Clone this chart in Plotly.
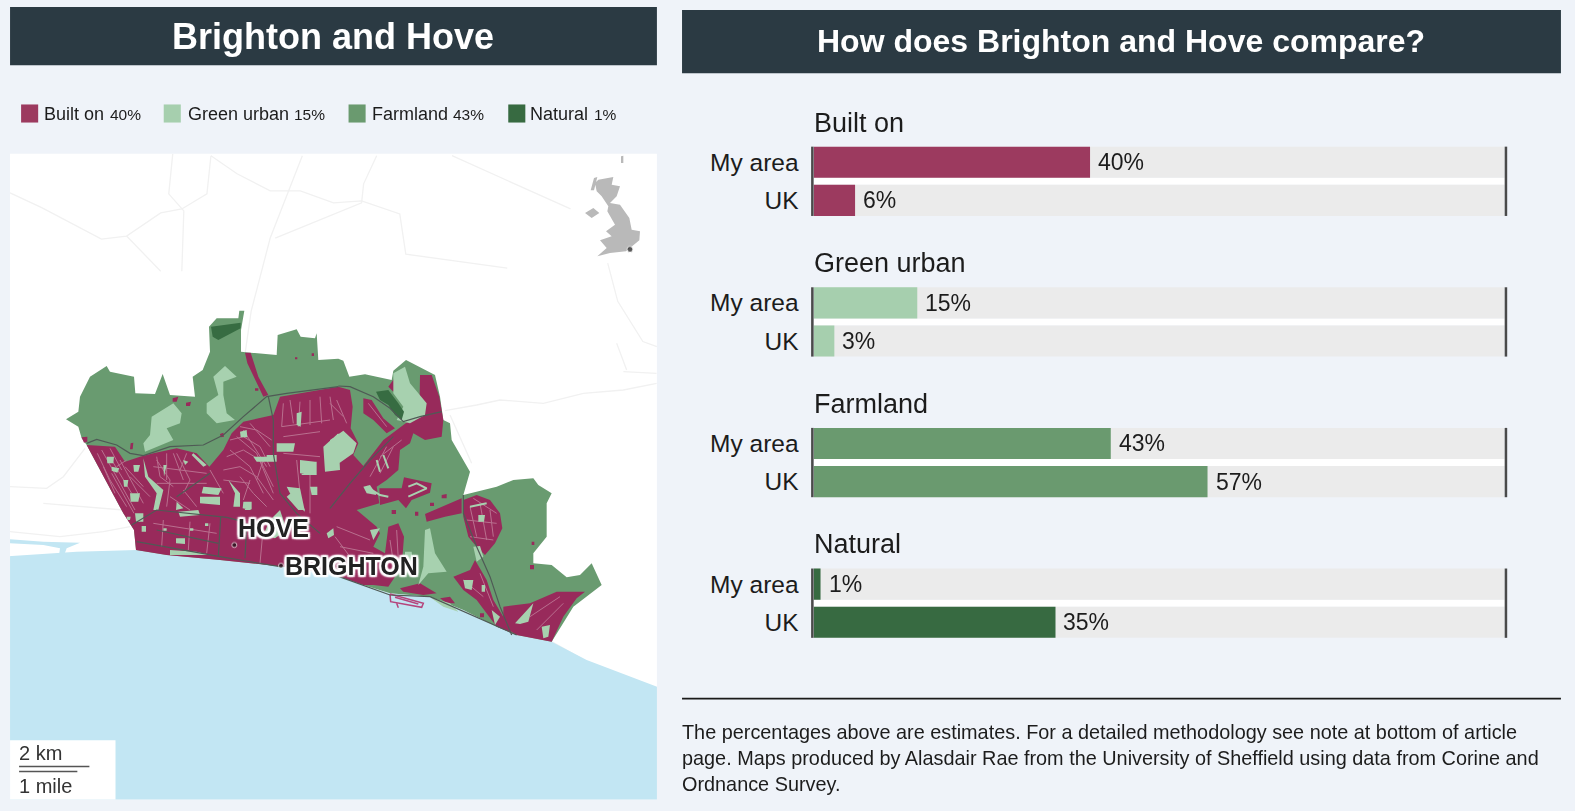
import plotly.graph_objects as go

W, H = 1575, 811
CATEGORIES = ["Built on", "Green urban", "Farmland", "Natural"]
ROW_LABELS = ["My area", "UK"]
MY_AREA = [40, 15, 43, 1]
UK_VALUES = [6, 3, 57, 35]
BAR_FULL = 100
COLORS = ["#9c3a5f", "#a6cfae", "#6a9a6f", "#376a41"]
MAP_COLORS = ["#982a5b", "#a7d1af", "#699b70", "#376c42"]

# Map geography, in tracing sheets: west (W), east (E), centre (C)
FARM_W_NORTH = [[168,418],[205,395],[210,350],[240,290],[290,258],[300,275],[372,290],[376,340],[435,342],[458,282],[480,345],[555,350],[548,290],[578,270],[600,215],[597,140],[620,115],[685,115],[688,92],[703,92],[693,150],[693,215],[720,218],[800,225],[803,165],[860,148],[872,170],[915,175],[920,160],[925,240],[985,236]]
FARM_E = [[40,62],[58,110],[105,103],[185,120],[190,92],[228,60],[315,105],[330,170],[340,240],[360,250],[365,300],[420,395],[400,465],[500,440],[550,420],[610,415],[625,435],[665,460],[650,490],[650,590],[610,640],[610,670],[665,675],[710,712],[750,705],[785,670],[815,735],[730,800],[665,905],[560,885],[500,860],[400,810],[300,770],[180,760],[100,735],[0,700]]
COAST_W = [[820,860],[630,840],[470,825],[378,810],[372,750],[340,700],[280,590],[230,495],[215,475],[205,440]]

BUILT_W_NORTH = [[230,495],[315,500],[345,545],[390,530],[430,520],[500,505],[560,520],[598,560],[640,510],[665,460],[700,425],[790,405],[810,350],[985,320]]
BUILT_E_MAIN = [[25,140],[60,150],[68,200],[62,265],[85,310],[70,345],[100,378],[160,300],[240,240],[268,225],[270,105],[305,105],[328,170],[340,240],[335,290],[285,300],[250,280],[240,310],[210,330],[205,390],[170,420],[140,440],[148,490],[80,510],[140,560],[150,580],[130,620],[165,640],[175,560],[205,550],[222,590],[215,680],[175,740],[130,735],[100,735],[0,700]]
BUILT_E_OTHER = [
    [[400,480],[440,465],[480,480],[510,520],[517,565],[495,610],[465,645],[440,620],[415,590],[400,530]],
    [[285,522],[395,475],[395,520],[345,530],[290,545]],
    [[100,175],[125,180],[160,235],[195,265],[170,280],[130,240],[100,220]],
    [[148,445],[215,445],[222,412],[305,430],[300,458],[245,480],[228,505],[205,480],[150,495]],
    [[370,710],[420,690],[435,660],[470,720],[490,780],[520,830],[545,880],[560,885],[500,860],[440,780],[400,750]],
    [[520,800],[600,790],[680,755],[765,755],[740,775],[700,830],[665,905],[560,885],[520,860]],
    [[210,745],[270,730],[320,760],[280,765],[220,755]],
    [[330,775],[360,770],[375,790],[350,790]],
    [[175,140],[200,105],[205,140],[190,155]],
    [[335,465],[350,462],[350,475],[335,475]],
    [[185,510],[198,510],[198,522],[185,522]],
    [[255,515],[265,515],[265,527],[255,527]],
    [[300,488],[312,488],[312,498],[300,498]],
    [[600,675],[612,675],[612,688],[600,688]],
    [[605,605],[613,605],[613,615],[605,615]],
    [[450,820],[462,820],[462,832],[450,832]],
    [[10,320],[22,320],[22,328],[10,328]],
]
BUILT_W_OTHER = [
    [[215,472],[232,470],[232,485],[222,488]],
    [[362,490],[370,488],[368,508],[360,508]],
    [[488,355],[505,350],[500,365],[488,365]],
    [[528,368],[543,365],[540,378],[528,378]],
    [[705,218],[722,218],[745,290],[775,345],[760,350],[730,290],[712,250]],
    [[735,325],[745,325],[745,332],[735,332]],
    [[620,385],[628,385],[628,392],[620,392]],
    [[448,425],[456,425],[456,432],[448,432]],
    [[855,232],[862,232],[862,238],[855,238]],
    [[905,220],[912,220],[912,228],[905,228]],
    [[630,462],[640,458],[642,470],[632,472]],
]
GREEN_W = [
    [[610,290],[645,258],[680,290],[640,305],[640,345],[650,400],[675,420],[620,430],[590,400],[590,370],[625,345]],
    [[425,410],[490,370],[515,400],[510,430],[470,445],[490,480],[405,515],[400,490],[420,465]],
    [[400,535],[415,590],[460,630],[445,690],[430,690],[440,640],[405,590]],
    [[580,620],[635,625],[625,645],[575,640]],
    [[570,650],[630,650],[630,675],[570,670]],
    [[655,600],[690,640],[690,680],[670,680],[675,640]],
    [[800,490],[855,490],[850,515],[800,515]],
    [[830,650],[860,625],[885,690],[865,690]],
    [[940,500],[985,460],[990,570],[945,575]],
    [[700,665],[725,665],[722,690],[698,685]],
    [[505,695],[565,690],[570,705],[510,710]],
    [[500,665],[520,685],[498,690]],
    [[375,700],[400,700],[400,725],[378,725]],
    [[360,640],[390,640],[385,665],[362,665]],
    [[290,530],[312,530],[310,550],[292,550]],
    [[305,560],[328,565],[322,578],[305,572]],
    [[370,555],[390,555],[385,575],[372,575]],
    [[498,775],[525,775],[525,792],[498,790]],
    [[395,738],[408,738],[408,755],[395,755]],
    [[340,600],[355,600],[352,620],[342,620]],
    [[480,810],[560,815],[600,825],[480,825]],
    [[770,525],[800,525],[800,545],[770,545]],
    [[875,545],[920,545],[920,585],[875,585]],
    [[550,520],[590,555],[580,560],[545,525]],
    [[690,455],[710,450],[712,472],[692,472]],
    [[860,400],[875,395],[872,440],[860,435]],
    [[910,620],[922,620],[922,645],[912,645]],
    [[460,555],[470,555],[462,590]],
    [[520,540],[535,545],[525,555]],
    [[740,530],[780,530],[775,545],[745,545]],
    [[350,710],[362,710],[360,720],[352,720]],
    [[540,745],[550,745],[550,752],[540,752]],
    [[585,730],[595,730],[595,738],[585,738]],
    [[460,745],[470,745],[470,752],[460,752]],
]
GREEN_E = [
    [[0,300],[40,272],[80,310],[70,340],[20,375],[0,365]],
    [[190,100],[225,80],[240,130],[290,190],[285,225],[240,250],[200,240],[220,200],[190,160]],
    [[285,570],[300,565],[315,640],[350,695],[295,700],[265,735],[280,680]],
    [[555,850],[610,790],[595,845],[570,852]],
    [[430,620],[450,618],[460,650],[440,665]],
    [[300,772],[360,790],[385,815],[340,800]],
    [[100,440],[150,462],[120,458]],
    [[400,720],[430,720],[425,750],[405,745]],
    [[635,860],[660,855],[655,890],[640,895]],
    [[445,525],[465,525],[462,545],[445,545]],
    [[485,810],[510,830],[495,855]],
    [[225,635],[245,635],[250,680],[225,680]],
    [[455,735],[465,735],[465,755],[455,755]],
    [[120,570],[150,565],[130,600]],
]
GREEN_C = [
    [[270,200],[285,200],[290,225],[275,225]],
    [[200,200],[240,205],[255,275],[225,250]],
    [[150,300],[180,270],[200,330],[165,355],[130,345]],
    [[320,340],[340,325],[342,345],[325,355]],
    [[430,200],[450,195],[470,225],[440,220]],
    [[240,120],[285,125],[270,165],[240,160]],
    [[100,110],[150,110],[140,125],[110,125]],
    [[70,248],[95,245],[95,268],[75,270]],
]
NATURAL_W = [[[603,140],[692,128],[692,145],[625,180],[608,170]]]
NATURAL_E = [[[138,155],[175,150],[205,190],[222,215],[215,240],[195,225],[175,195],[150,180]]]
MARINA_E = [[[180,762],[280,790],[275,802],[182,785],[180,762]],[[195,772],[265,792]],[[200,790],[205,803]]]

STREETS_W = [
    [[262,520],[300,600],[350,680]],[[275,510],[325,600],[375,690]],[[300,505],[335,570]],[[280,560],[315,640]],[[320,560],[350,540]],
    [[305,540],[365,640]],[[330,540],[400,670]],[[305,580],[372,700]],[[360,590],[420,650]],[[345,560],[400,620]],
    [[440,530],[450,590],[490,620]],[[470,520],[470,600]],[[490,520],[520,600]],[[530,520],[510,570]],[[430,560],[590,580]],[[440,610],[590,610]],
    [[520,630],[560,680]],[[480,650],[540,690]],[[600,570],[640,640]],[[440,540],[480,600],[470,680]],[[500,520],[540,600],[520,640]],
    [[660,480],[700,470],[750,500],[780,560]],[[650,530],[700,510],[750,540],[790,620]],[[640,570],[690,560],[740,590],[790,660]],
    [[690,440],[740,450],[785,480]],[[690,590],[730,640],[770,680]],[[720,600],[700,660]],[[760,540],[740,600]],
    [[680,470],[740,520],[790,640]],[[700,450],[770,560]],[[660,510],[720,560],[760,640]],[[720,430],[780,500]],[[640,600],[720,610]],
    [[820,370],[815,440]],[[840,360],[850,430]],[[870,365],[865,440]],[[900,360],[900,435]],[[930,350],[935,430]],[[960,350],[970,420]],
    [[815,440],[960,420]],[[820,470],[930,455]],[[820,520],[930,530]],[[860,540],[870,640]],[[900,560],[900,700]],
    [[460,720],[455,800]],[[540,725],[535,810]],[[600,730],[590,820]],[[760,740],[750,850]],[[430,730],[620,760]],
]
STREETS_E = [
    [[420,500],[440,590]],[[450,490],[470,600]],[[480,510],[490,590]],[[410,540],[500,550]],[[430,475],[500,520]],[[420,590],[490,600]],
    [[170,320],[120,410]],[[190,320],[150,400]],[[215,300],[150,350]],
    [[180,600],[195,700]],[[200,570],[205,660]],[[20,560],[120,600]],[[30,620],[130,640]],[[15,590],[90,690]],
    [[600,830],[690,770]],[[620,870],[700,790]],[[400,720],[460,770]],[[450,700],[490,800]],[[20,180],[50,250]],[[0,190],[40,230]],[[115,190],[170,260]],
]
PALE_STREETS_E = [[[235,440],[260,430],[290,445],[260,460],[235,470]],[[110,440],[150,465],[175,470]],[[420,500],[470,490]],[[160,345],[175,385]],[[140,360],[150,395]]]
ROADS_W = [
    [[230,490],[260,478],[320,495],[360,520],[400,527],[480,500],[580,495],[640,465],[700,410],[770,350],[830,340],[985,320]],
    [[775,350],[790,420],[790,520],[810,640],[860,700],[930,760]],
    [[380,785],[630,830],[810,860]],
    [[365,735],[440,690],[650,712],[700,725]],
    [[440,750],[625,790]],[[632,712],[625,830]],[[710,730],[705,835]],[[500,650],[600,580]],
]
ROADS_E = [
    [[25,138],[60,140],[130,170],[180,205],[220,245],[270,230],[335,215]],
    [[190,290],[120,360],[60,430],[0,505]],
    [[400,465],[400,520],[440,620],[480,710],[510,800],[545,885]],
    [[0,700],[180,765],[300,770],[500,860],[560,885]],
]
BG_ROADS_REF = [
    [[10,192],[42,207],[101,238],[126,235],[160,212],[181,208],[206,193],[210,155]],
    [[172,153],[168,193],[183,210],[181,270]],
    [[210,155],[236,173],[269,190],[299,190],[332,202],[360,200],[398,213],[404,253],[505,267]],
    [[301,155],[269,237],[250,310],[244,352]],
    [[375,155],[362,183],[360,202],[274,237]],
    [[450,155],[568,208]],[[126,235],[160,270]],
    [[605,262],[615,300],[640,340],[654,345]],
]
BG_ROADS_E = [[[345,212],[440,195],[510,180],[640,190],[760,160],[880,150],[980,130]],[[880,95],[980,100]],[[890,90],[860,10]],[[360,225],[425,370]],[[665,905],[770,965]]]
BG_ROADS_W = [[[0,620],[110,625],[160,590],[225,505]],[[0,755],[150,770],[280,755],[360,740]],[[100,670],[230,680],[340,690]]]

SEA_W_LEAD = [[-30,830],[200,815],[378,810],[470,825],[630,840],[820,860]]
SEA_E = [[0,700],[100,735],[180,760],[300,770],[400,810],[500,860],[560,885],[665,905],[770,960]]
SEA_REF_CORNERS = [[660,686],[660,800],[5,800]]
HARBOUR_W = [[0,778],[100,785],[210,788],[170,805],[155,845],[145,840],[150,805],[100,795],[0,790]]

GB_INSET = [[85,80],[130,72],[125,95],[150,100],[140,130],[120,150],[150,155],[178,195],[185,230],[210,235],[208,262],[185,280],[168,295],[120,300],[82,310],[110,285],[90,262],[125,250],[108,235],[135,215],[112,175],[115,160],[95,130],[80,115],[75,90]]
NI_INSET = [[45,180],[70,165],[88,180],[65,195]]
ISLES_INSET = [[[62,112],[72,75],[82,72],[72,112]],[[153,10],[160,8],[160,30],[153,30]]]
PLACE_INSET = [180, 289]
PLACE_NAMES = [("HOVE", 272, 526), ("BRIGHTON", 350, 563)]
PLACE_DOTS_W = [[673,795],[813,857]]

LEGEND_ITEMS = [("Built on", "40%", 21, 44, 110), ("Green urban", "15%", 163, 187, 293),
                ("Farmland", "43%", 347, 370, 451), ("Natural", "1%", 506, 528, 591)]
FOOTER = ["The percentages above are estimates. For a detailed methodology see note at bottom of article",
          "page. Maps produced by Alasdair Rae from the University of Sheffield using data from Corine and",
          "Ordnance Survey."]

VIEW = W / 1568
px = lambda x: x * VIEW / W
py = lambda y: 1 - y * VIEW / H

E = lambda pts: [[p[0] + 960, p[1] + 180] for p in pts]
C = lambda pts: [[p[0] + 630, p[1] + 420] for p in pts]
R = lambda pts: [[3 * (p[0] * VIEW - 10), 3 * (p[1] * VIEW - 280)] for p in pts]
INS = lambda pts: [[3 * (560 + p[0] / 3), 3 * (153 + p[1] / 3 - 280)] for p in pts]

FONT = "Liberation Sans, Arial, Helvetica, sans-serif"
BG = "#eff3f9"
HEAD = "#2b3a43"
INK = "#1c1c1c"

fig = go.Figure()


def area(polys, color, line=0):
    xs, ys = [], []
    for poly in polys:
        xs += [p[0] for p in poly] + [poly[0][0], None]
        ys += [p[1] for p in poly] + [poly[0][1], None]
    fig.add_trace(go.Scatter(x=xs, y=ys, mode="lines", fill="toself", fillcolor=color,
                             line=dict(width=line, color=color), hoverinfo="skip", showlegend=False))


def lines(polys, color, width):
    xs, ys = [], []
    for poly in polys:
        xs += [p[0] for p in poly] + [None]
        ys += [p[1] for p in poly] + [None]
    fig.add_trace(go.Scatter(x=xs, y=ys, mode="lines", line=dict(width=width, color=color),
                             hoverinfo="skip", showlegend=False))


lines([R(r) for r in BG_ROADS_REF] + [E(r) for r in BG_ROADS_E] + BG_ROADS_W, "#f1f1f1", 1.3)
area([SEA_W_LEAD + E(SEA_E) + R(SEA_REF_CORNERS)], "#c2e6f3")
area([HARBOUR_W], "#c2e6f3")
area([FARM_W_NORTH + E(FARM_E) + COAST_W], MAP_COLORS[2])
area([BUILT_W_NORTH + E(BUILT_E_MAIN) + COAST_W[:-2]] + BUILT_W_OTHER + [E(p) for p in BUILT_E_OTHER], MAP_COLORS[0])
lines(STREETS_W + [E(s) for s in STREETS_E], "#b9708f", 1)
lines([E(s) for s in PALE_STREETS_E], MAP_COLORS[1], 2)
area(GREEN_W + [E(p) for p in GREEN_E] + [C(p) for p in GREEN_C], MAP_COLORS[1])
area(NATURAL_W + [E(p) for p in NATURAL_E], MAP_COLORS[3])
lines([E(p) for p in MARINA_E], "#b5457c", 1.5)
lines(ROADS_W + [E(r) for r in ROADS_E], "#4f5a55", 1.2)
area([INS(GB_INSET), INS(NI_INSET)] + [INS(p) for p in ISLES_INSET], "#b9b9b9")
dots = PLACE_DOTS_W + INS([PLACE_INSET])
fig.add_trace(go.Scatter(x=[d[0] for d in dots], y=[d[1] for d in dots], mode="markers",
                         marker=dict(size=[5, 5, 6], color="#111111"), hoverinfo="skip", showlegend=False))

map_right = 654 * VIEW
map_top = 153 * VIEW
map_bottom = 796 * VIEW
layout_axes = {
    "xaxis": dict(domain=[px(10), px(654)], range=[3 * (10 * VIEW - 10), 3 * (map_right - 10)], visible=False, fixedrange=True),
    "yaxis": dict(domain=[py(796), py(153)], range=[3 * (map_bottom - 280), 3 * (map_top - 280)], visible=False, fixedrange=True),
}
shapes = [
    dict(type="rect", xref="paper", yref="paper", x0=px(10), x1=px(654), y0=py(153), y1=py(796),
         fillcolor="white", line_width=0, layer="below"),
    dict(type="rect", xref="paper", yref="paper", x0=px(10), x1=px(654), y0=py(7), y1=py(65),
         fillcolor=HEAD, line_width=0, layer="below"),
    dict(type="rect", xref="paper", yref="paper", x0=px(679), x1=px(1554), y0=py(10), y1=py(73),
         fillcolor=HEAD, line_width=0, layer="below"),
    dict(type="line", xref="paper", yref="paper", x0=px(679), x1=px(1554), y0=py(695.5), y1=py(695.5),
         line=dict(color="#1a1a1a", width=1.6)),
    dict(type="rect", xref="paper", yref="paper", x0=px(10), x1=px(115), y0=py(737), y1=py(796),
         fillcolor="white", line_width=0),
    dict(type="line", xref="paper", yref="paper", x0=px(19), x1=px(89), y0=py(763), y1=py(763),
         line=dict(color="#555555", width=1.5)),
    dict(type="line", xref="paper", yref="paper", x0=px(19), x1=px(77), y0=py(768), y1=py(768),
         line=dict(color="#555555", width=1.5)),
]


def note(text, x, y, size, color=INK, anchor="left", **kw):
    font = dict(family=FONT, size=size, color=color)
    font.update(kw.pop("font_extra", {}))
    nudge = 2 if anchor == "left" else 0
    return dict(text=text, x=px(x - nudge), y=py(y), xref="paper", yref="paper", showarrow=False,
                xanchor=anchor, yanchor="middle", font=font, **kw)


annotations = [
    note("<b>Brighton and Hove</b>", 332, 36, 36, "white", "center"),
    note("<b>How does Brighton and Hove compare?</b>", 1116, 41, 32, "white", "center"),
    note("2 km", 19, 750, 20, "#333333"),
    note("1 mile", 19, 783, 20, "#333333"),
]
halo = ",".join(f"{a}px {b}px 1.5px white" for a, b in [(-2,0),(2,0),(0,-2),(0,2),(-2,-2),(2,2),(-2,2),(2,-2)])
for name, x, y in PLACE_NAMES:
    annotations.append(note(f"<b>{name}</b>", x, y, 25, "#222222", "center", font_extra=dict(shadow=halo)))
for (name, pct, sw, tx, ptx), col in zip(LEGEND_ITEMS, COLORS):
    shapes.append(dict(type="rect", xref="paper", yref="paper", x0=px(sw), x1=px(sw + 17), y0=py(104), y1=py(122),
                       fillcolor=col, line_width=0))
    annotations.append(note(name, tx, 113, 18))
    annotations.append(note(pct, ptx, 113.5, 15.5))
for i, line in enumerate(FOOTER):
    annotations.append(note(line, 679, 729 + 26 * i, 19.85))

for i, (cat, a, b, col) in enumerate(zip(CATEGORIES, MY_AREA, UK_VALUES, COLORS)):
    n = i + 2
    top = 146 + 140 * i
    bot = top + 69
    xa, ya = f"x{n}", f"y{n}"
    layout_axes[f"xaxis{n}"] = dict(domain=[px(810), px(1498)], range=[0, BAR_FULL], visible=False,
                                    anchor=ya, fixedrange=True)
    layout_axes[f"yaxis{n}"] = dict(domain=[py(bot + 3.5), py(top - 3.5)], type="category",
                                    categoryorder="array", categoryarray=ROW_LABELS, autorange="reversed",
                                    anchor=xa, showgrid=False, zeroline=False, showline=False, ticks="",
                                    tickfont=dict(family=FONT, size=24.5, color=INK), ticklabelstandoff=14,
                                    fixedrange=True)
    fig.add_trace(go.Bar(x=[BAR_FULL, BAR_FULL], y=ROW_LABELS, orientation="h", marker=dict(color="#ebebeb", line_width=0),
                         xaxis=xa, yaxis=ya, hoverinfo="skip", showlegend=False))
    fig.add_trace(go.Bar(x=[a, b], y=ROW_LABELS, orientation="h", marker=dict(color=col, line_width=0),
                         xaxis=xa, yaxis=ya, name=cat, showlegend=False))
    shapes.append(dict(type="rect", xref="paper", yref="paper", x0=px(810), x1=px(1498), y0=py(top + 31), y1=py(top + 38),
                       fillcolor="white", line_width=0, layer="below"))
    for x_edge in (807.5, 1498):
        shapes.append(dict(type="rect", xref="paper", yref="paper", x0=px(x_edge), x1=px(x_edge + 2.5), y0=py(top), y1=py(bot),
                           fillcolor="#4a4a4a", line_width=0))
    annotations.append(note(cat, 810, top - 24, 27))
    for row, v in zip(ROW_LABELS, (a, b)):
        annotations.append(dict(text=f"{v}%", x=v, y=row, xref=xa, yref=ya, showarrow=False, xanchor="left",
                                yanchor="middle", xshift=6, font=dict(family=FONT, size=23, color=INK)))

fig.update_layout(width=W, height=H, margin=dict(l=0, r=0, t=0, b=0), paper_bgcolor=BG, plot_bgcolor="rgba(0,0,0,0)",
                  barmode="overlay", bargap=0.184, shapes=shapes, annotations=annotations, showlegend=False,
                  font=dict(family=FONT), **layout_axes)
fig.write_html("out.html", config=dict(displayModeBar=False),
               post_script="document.body.style.margin='0';document.documentElement.style.overflow='hidden';"
                           "document.querySelectorAll('.scatterlayer .trace').forEach(function(t){t.style.filter='blur(0.5px)';});")
